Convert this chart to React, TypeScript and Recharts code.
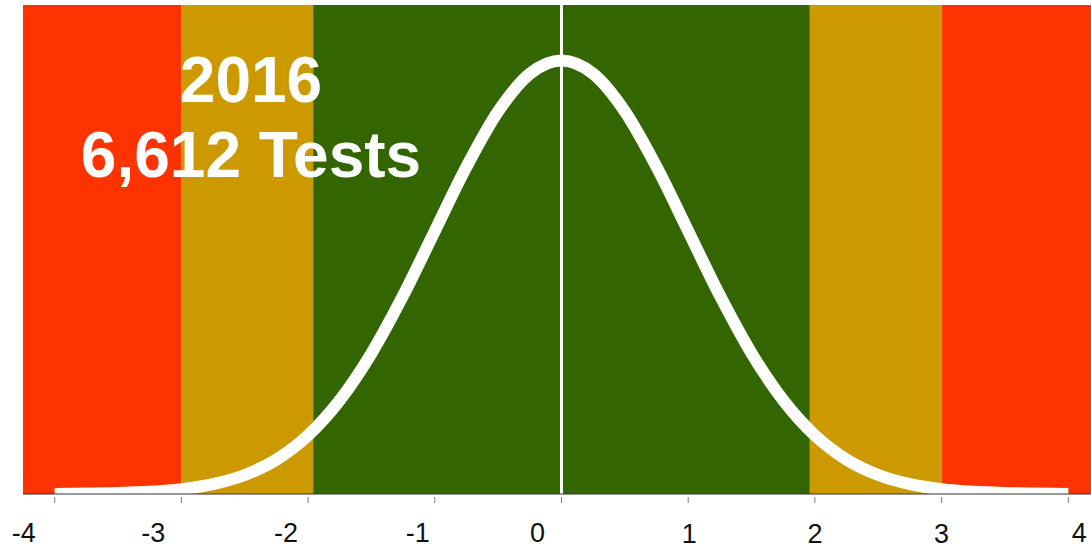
import React from 'react';
import {
  LineChart,
  Line,
  XAxis,
  YAxis,
  ReferenceArea,
  ReferenceLine
} from 'recharts';

// z-scores along the curve and the density
const Z_SCORES = [
  -4, -3.75, -3.5, -3.25, -3, -2.75, -2.5, -2.25, -2, -1.75, -1.5, -1.25, -1, -0.75, -0.5, -0.25, 0,
  0.25, 0.5, 0.75, 1, 1.25, 1.5, 1.75, 2, 2.25, 2.5, 2.75, 3, 3.25, 3.5, 3.75, 4
];
const DENSITY = [
  0.0001, 0.0004, 0.0009, 0.002, 0.0044, 0.0091, 0.0175, 0.0317, 0.054, 0.0863, 0.1295, 0.1826, 0.242,
  0.3011, 0.3521, 0.3867, 0.3989, 0.3867, 0.3521, 0.3011, 0.242, 0.1826, 0.1295, 0.0863, 0.054, 0.0317,
  0.0175, 0.0091, 0.0044, 0.002, 0.0009, 0.0004, 0.0001
];

const X_TICKS = [-4, -3, -2, -1, 0, 1, 2, 3, 4];

// colour bands between these edges
const BAND_EDGES = [-4.25, -3, -1.96, 1.96, 3, 4.25];
const BAND_COLORS = ['#FF3300', '#CC9900', '#336600', '#CC9900', '#FF3300'];

const TITLE_YEAR = '2016';
const TITLE_TESTS = '6,612 Tests';

// label nudges so the tick text sits where the original put it
const LABEL_DX: Record<number, number> = { '-4': -31, '-3': -28, '-2': -22, '-1': -17, '0': -24, '1': 1, '2': 0, '3': 0, '4': 11 };
const LABEL_DY: Record<number, number> = { '-4': 48, '-3': 48, '-2': 48, '-1': 48, '0': 48, '1': 49, '2': 49, '3': 49, '4': 48 };

const chartData = Z_SCORES.map((z, i) => ({ z, density: DENSITY[i] }));

const FONT = '"Liberation Sans", Arial, sans-serif';

const AxisTick = (props: any) => {
  const { x, y, payload } = props;
  const v = payload.value;
  return (
    <g>
      <line x1={x} x2={x} y1={y + 3} y2={y + 9} stroke="#7f7f7f" strokeWidth={1} />
      <text
        x={x + (LABEL_DX[v] ?? 0)}
        y={y + (LABEL_DY[v] ?? 48)}
        textAnchor="middle"
        fontSize={27}
        fontFamily={FONT}
        fill="#111"
      >
        {v}
      </text>
    </g>
  );
};

export default function App() {
  return (
    <div style={{ position: 'absolute', left: 0, top: 0, width: 1091, height: 550, overflow: 'hidden', background: '#fff' }}>
      <LineChart width={1110} height={550} data={chartData} margin={{ top: 5, right: 10, left: 23, bottom: 0 }}>
        <XAxis
          dataKey="z"
          type="number"
          domain={[-4.25, 4.25]}
          ticks={X_TICKS}
          interval={0}
          height={56}
          tickSize={0}
          tickMargin={0}
          tickLine={false}
          axisLine={{ stroke: '#333', strokeWidth: 1 }}
          tick={<AxisTick />}
        />
        <XAxis
          xAxisId="top"
          dataKey="z"
          type="number"
          domain={[-4.25, 4.25]}
          orientation="top"
          height={0}
          tick={false}
          tickLine={false}
          axisLine={{ stroke: '#000', strokeWidth: 1 }}
        />
        <YAxis
          type="number"
          domain={[0, 0.45]}
          width={0}
          tick={false}
          tickLine={false}
          axisLine={{ stroke: '#000', strokeWidth: 1 }}
        />
        {BAND_COLORS.map((c, i) => (
          <ReferenceArea
            key={`band-${i}`}
            x1={BAND_EDGES[i]}
            x2={BAND_EDGES[i + 1]}
            fill={c}
            fillOpacity={1}
            stroke="none"
          />
        ))}
        <ReferenceLine x={0} stroke="#FFFFFF" strokeWidth={3} />
        <Line
          type="monotone"
          dataKey="density"
          stroke="#FFFFFF"
          strokeWidth={12}
          dot={false}
          activeDot={false}
          isAnimationActive={false}
        />
      </LineChart>
      <svg
        width={1091}
        height={550}
        style={{ position: 'absolute', left: 0, top: 0, pointerEvents: 'none' }}
      >
        <g fontFamily={FONT} fontWeight="bold" fontSize={64} fill="#FFFFFF" textAnchor="middle">
          <text x={251} y={102}>{TITLE_YEAR}</text>
          <text x={251} y={177}>{TITLE_TESTS}</text>
        </g>
      </svg>
    </div>
  );
}
